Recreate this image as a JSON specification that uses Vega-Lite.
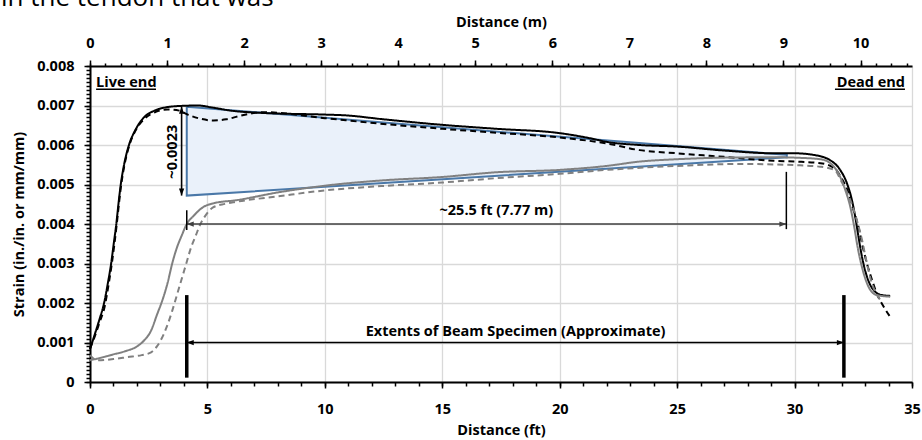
{
  "$schema": "https://vega.github.io/schema/vega-lite/v6.json",
  "width": 822,
  "height": 316,
  "autosize": {"type": "none"},
  "padding": {"left": 90, "top": 66, "right": 10, "bottom": 58},
  "background": "white",
  "title": {"text": "in the tendon that was", "anchor": "start", "frame": "group", "dx": -89, "dy": 18, "offset": 0, "baseline": "alphabetic", "font": "Open Sans", "fontSize": 26, "fontWeight": "normal", "color": "#000000"},
  "config": {
    "view": {"stroke": null},
    "axis": {"labelFont": "Open Sans", "labelFontWeight": "bold", "labelFontSize": 14.5, "labelColor": "#000000", "titleFont": "Open Sans", "titleFontWeight": "bold", "titleFontSize": 14.5, "titleColor": "#000000", "domainColor": "#000000", "domainWidth": 2, "tickColor": "#000000", "tickWidth": 1.5, "gridColor": "#d9d9d9", "gridWidth": 1.3, "labelFlush": false, "labelOverlap": false, "labelBound": false}
  },
  "datasets": {
    "band": [
      {"ft": 4.12, "upper": 0.00697, "lower": 0.00472},
      {"ft": 29.67, "upper": 0.00575, "lower": 0.00569}
    ],
    "outline": [
      {"vertex": 0, "ft": 4.12, "strain": 0.00697},
      {"vertex": 1, "ft": 29.67, "strain": 0.00575},
      {"vertex": 2, "ft": 29.67, "strain": 0.00569},
      {"vertex": 3, "ft": 4.12, "strain": 0.00472},
      {"vertex": 4, "ft": 4.12, "strain": 0.00697}
    ],
    "curves": [
      {"series": "Curve 1", "ft": 0, "strain": 0.00083},
      {"series": "Curve 1", "ft": 0.2, "strain": 0.0012},
      {"series": "Curve 1", "ft": 0.4, "strain": 0.00158},
      {"series": "Curve 1", "ft": 0.6, "strain": 0.002},
      {"series": "Curve 1", "ft": 0.76, "strain": 0.0025},
      {"series": "Curve 1", "ft": 0.9, "strain": 0.003},
      {"series": "Curve 1", "ft": 1.01, "strain": 0.0035},
      {"series": "Curve 1", "ft": 1.12, "strain": 0.004},
      {"series": "Curve 1", "ft": 1.21, "strain": 0.0045},
      {"series": "Curve 1", "ft": 1.31, "strain": 0.005},
      {"series": "Curve 1", "ft": 1.45, "strain": 0.0055},
      {"series": "Curve 1", "ft": 1.66, "strain": 0.006},
      {"series": "Curve 1", "ft": 1.95, "strain": 0.0064},
      {"series": "Curve 1", "ft": 2.3, "strain": 0.0067},
      {"series": "Curve 1", "ft": 2.75, "strain": 0.00687},
      {"series": "Curve 1", "ft": 3.3, "strain": 0.00696},
      {"series": "Curve 1", "ft": 3.9, "strain": 0.00699},
      {"series": "Curve 1", "ft": 4.6, "strain": 0.007},
      {"series": "Curve 1", "ft": 5.2, "strain": 0.00695},
      {"series": "Curve 1", "ft": 6.0, "strain": 0.00687},
      {"series": "Curve 1", "ft": 7.4, "strain": 0.00681},
      {"series": "Curve 1", "ft": 10, "strain": 0.00677},
      {"series": "Curve 1", "ft": 10.9, "strain": 0.00675},
      {"series": "Curve 1", "ft": 12.35, "strain": 0.00666},
      {"series": "Curve 1", "ft": 15, "strain": 0.00651},
      {"series": "Curve 1", "ft": 17.3, "strain": 0.00641},
      {"series": "Curve 1", "ft": 20, "strain": 0.0063},
      {"series": "Curve 1", "ft": 21.3, "strain": 0.00617},
      {"series": "Curve 1", "ft": 22, "strain": 0.00608},
      {"series": "Curve 1", "ft": 23.4, "strain": 0.006},
      {"series": "Curve 1", "ft": 25, "strain": 0.00596},
      {"series": "Curve 1", "ft": 27, "strain": 0.00586},
      {"series": "Curve 1", "ft": 29.1, "strain": 0.00579},
      {"series": "Curve 1", "ft": 30, "strain": 0.00579},
      {"series": "Curve 1", "ft": 30.8, "strain": 0.00575},
      {"series": "Curve 1", "ft": 31.5, "strain": 0.00562},
      {"series": "Curve 1", "ft": 31.94, "strain": 0.00537},
      {"series": "Curve 1", "ft": 32.23, "strain": 0.00503},
      {"series": "Curve 1", "ft": 32.44, "strain": 0.00461},
      {"series": "Curve 1", "ft": 32.58, "strain": 0.00419},
      {"series": "Curve 1", "ft": 32.72, "strain": 0.00368},
      {"series": "Curve 1", "ft": 32.87, "strain": 0.00317},
      {"series": "Curve 1", "ft": 33.08, "strain": 0.00267},
      {"series": "Curve 1", "ft": 33.36, "strain": 0.00233},
      {"series": "Curve 1", "ft": 33.72, "strain": 0.0022},
      {"series": "Curve 1", "ft": 34.07, "strain": 0.00218},

      {"series": "Curve 2", "ft": 0, "strain": 0.00085},
      {"series": "Curve 2", "ft": 0.2, "strain": 0.00115},
      {"series": "Curve 2", "ft": 0.4, "strain": 0.0015},
      {"series": "Curve 2", "ft": 0.62, "strain": 0.0019},
      {"series": "Curve 2", "ft": 0.8, "strain": 0.0025},
      {"series": "Curve 2", "ft": 0.93, "strain": 0.003},
      {"series": "Curve 2", "ft": 1.04, "strain": 0.0035},
      {"series": "Curve 2", "ft": 1.14, "strain": 0.004},
      {"series": "Curve 2", "ft": 1.23, "strain": 0.0045},
      {"series": "Curve 2", "ft": 1.33, "strain": 0.005},
      {"series": "Curve 2", "ft": 1.47, "strain": 0.0055},
      {"series": "Curve 2", "ft": 1.68, "strain": 0.006},
      {"series": "Curve 2", "ft": 1.97, "strain": 0.0064},
      {"series": "Curve 2", "ft": 2.35, "strain": 0.00668},
      {"series": "Curve 2", "ft": 2.8, "strain": 0.00684},
      {"series": "Curve 2", "ft": 3.3, "strain": 0.0069},
      {"series": "Curve 2", "ft": 3.8, "strain": 0.00687},
      {"series": "Curve 2", "ft": 4.12, "strain": 0.00678},
      {"series": "Curve 2", "ft": 4.6, "strain": 0.00668},
      {"series": "Curve 2", "ft": 5.26, "strain": 0.00662},
      {"series": "Curve 2", "ft": 5.8, "strain": 0.00665},
      {"series": "Curve 2", "ft": 6.4, "strain": 0.00674},
      {"series": "Curve 2", "ft": 7.4, "strain": 0.00683},
      {"series": "Curve 2", "ft": 10, "strain": 0.00668},
      {"series": "Curve 2", "ft": 12.35, "strain": 0.00654},
      {"series": "Curve 2", "ft": 15, "strain": 0.00641},
      {"series": "Curve 2", "ft": 17.3, "strain": 0.00631},
      {"series": "Curve 2", "ft": 20, "strain": 0.00619},
      {"series": "Curve 2", "ft": 22, "strain": 0.00604},
      {"series": "Curve 2", "ft": 23.4, "strain": 0.00587},
      {"series": "Curve 2", "ft": 25, "strain": 0.00579},
      {"series": "Curve 2", "ft": 27, "strain": 0.0057},
      {"series": "Curve 2", "ft": 29.1, "strain": 0.0056},
      {"series": "Curve 2", "ft": 30, "strain": 0.00558},
      {"series": "Curve 2", "ft": 31.1, "strain": 0.00554},
      {"series": "Curve 2", "ft": 31.7, "strain": 0.00541},
      {"series": "Curve 2", "ft": 32.0, "strain": 0.00516},
      {"series": "Curve 2", "ft": 32.3, "strain": 0.00478},
      {"series": "Curve 2", "ft": 32.51, "strain": 0.00435},
      {"series": "Curve 2", "ft": 32.72, "strain": 0.00393},
      {"series": "Curve 2", "ft": 32.9, "strain": 0.00343},
      {"series": "Curve 2", "ft": 33.08, "strain": 0.003},
      {"series": "Curve 2", "ft": 33.3, "strain": 0.00258},
      {"series": "Curve 2", "ft": 33.5, "strain": 0.00224},
      {"series": "Curve 2", "ft": 33.79, "strain": 0.00191},
      {"series": "Curve 2", "ft": 34.07, "strain": 0.00165},

      {"series": "Curve 3", "ft": 0, "strain": 0.00055},
      {"series": "Curve 3", "ft": 0.5, "strain": 0.00062},
      {"series": "Curve 3", "ft": 1.0, "strain": 0.0007},
      {"series": "Curve 3", "ft": 1.5, "strain": 0.00078},
      {"series": "Curve 3", "ft": 2.0, "strain": 0.0009},
      {"series": "Curve 3", "ft": 2.3, "strain": 0.00105},
      {"series": "Curve 3", "ft": 2.6, "strain": 0.0013},
      {"series": "Curve 3", "ft": 2.85, "strain": 0.0017},
      {"series": "Curve 3", "ft": 3.1, "strain": 0.0021},
      {"series": "Curve 3", "ft": 3.3, "strain": 0.0025},
      {"series": "Curve 3", "ft": 3.5, "strain": 0.003},
      {"series": "Curve 3", "ft": 3.7, "strain": 0.0034},
      {"series": "Curve 3", "ft": 3.9, "strain": 0.0037},
      {"series": "Curve 3", "ft": 4.12, "strain": 0.004},
      {"series": "Curve 3", "ft": 4.4, "strain": 0.0042},
      {"series": "Curve 3", "ft": 4.8, "strain": 0.00442},
      {"series": "Curve 3", "ft": 5.3, "strain": 0.00453},
      {"series": "Curve 3", "ft": 6.2, "strain": 0.0046},
      {"series": "Curve 3", "ft": 8.1, "strain": 0.00481},
      {"series": "Curve 3", "ft": 10, "strain": 0.00497},
      {"series": "Curve 3", "ft": 12.35, "strain": 0.0051},
      {"series": "Curve 3", "ft": 15, "strain": 0.00519},
      {"series": "Curve 3", "ft": 17.3, "strain": 0.00531},
      {"series": "Curve 3", "ft": 20, "strain": 0.00537},
      {"series": "Curve 3", "ft": 22, "strain": 0.00547},
      {"series": "Curve 3", "ft": 23.4, "strain": 0.00558},
      {"series": "Curve 3", "ft": 25, "strain": 0.00564},
      {"series": "Curve 3", "ft": 27, "strain": 0.00568},
      {"series": "Curve 3", "ft": 29.1, "strain": 0.00569},
      {"series": "Curve 3", "ft": 30, "strain": 0.00568},
      {"series": "Curve 3", "ft": 31.1, "strain": 0.00564},
      {"series": "Curve 3", "ft": 31.52, "strain": 0.00554},
      {"series": "Curve 3", "ft": 31.87, "strain": 0.00528},
      {"series": "Curve 3", "ft": 32.16, "strain": 0.00486},
      {"series": "Curve 3", "ft": 32.37, "strain": 0.00444},
      {"series": "Curve 3", "ft": 32.54, "strain": 0.00393},
      {"series": "Curve 3", "ft": 32.68, "strain": 0.00343},
      {"series": "Curve 3", "ft": 32.9, "strain": 0.00284},
      {"series": "Curve 3", "ft": 33.15, "strain": 0.00241},
      {"series": "Curve 3", "ft": 33.5, "strain": 0.0022},
      {"series": "Curve 3", "ft": 34.07, "strain": 0.00216},

      {"series": "Curve 4", "ft": 0, "strain": 0.00068},
      {"series": "Curve 4", "ft": 0.3, "strain": 0.00055},
      {"series": "Curve 4", "ft": 1.0, "strain": 0.00058},
      {"series": "Curve 4", "ft": 1.6, "strain": 0.00063},
      {"series": "Curve 4", "ft": 2.2, "strain": 0.00068},
      {"series": "Curve 4", "ft": 2.6, "strain": 0.00075},
      {"series": "Curve 4", "ft": 2.85, "strain": 0.0009},
      {"series": "Curve 4", "ft": 3.05, "strain": 0.0011},
      {"series": "Curve 4", "ft": 3.27, "strain": 0.0014},
      {"series": "Curve 4", "ft": 3.5, "strain": 0.0018},
      {"series": "Curve 4", "ft": 3.7, "strain": 0.0022},
      {"series": "Curve 4", "ft": 3.9, "strain": 0.0026},
      {"series": "Curve 4", "ft": 4.1, "strain": 0.003},
      {"series": "Curve 4", "ft": 4.3, "strain": 0.0034},
      {"series": "Curve 4", "ft": 4.5, "strain": 0.0037},
      {"series": "Curve 4", "ft": 4.7, "strain": 0.004},
      {"series": "Curve 4", "ft": 4.9, "strain": 0.0042},
      {"series": "Curve 4", "ft": 5.24, "strain": 0.00442},
      {"series": "Curve 4", "ft": 5.75, "strain": 0.00451},
      {"series": "Curve 4", "ft": 6.2, "strain": 0.00456},
      {"series": "Curve 4", "ft": 8, "strain": 0.0047},
      {"series": "Curve 4", "ft": 10, "strain": 0.00485},
      {"series": "Curve 4", "ft": 12.4, "strain": 0.00496},
      {"series": "Curve 4", "ft": 15, "strain": 0.00505},
      {"series": "Curve 4", "ft": 17.3, "strain": 0.00516},
      {"series": "Curve 4", "ft": 20, "strain": 0.00527},
      {"series": "Curve 4", "ft": 22, "strain": 0.00537},
      {"series": "Curve 4", "ft": 25, "strain": 0.00547},
      {"series": "Curve 4", "ft": 27.7, "strain": 0.00552},
      {"series": "Curve 4", "ft": 30, "strain": 0.00549},
      {"series": "Curve 4", "ft": 31.1, "strain": 0.00545},
      {"series": "Curve 4", "ft": 31.7, "strain": 0.00537},
      {"series": "Curve 4", "ft": 32.0, "strain": 0.00507},
      {"series": "Curve 4", "ft": 32.37, "strain": 0.00461},
      {"series": "Curve 4", "ft": 32.65, "strain": 0.0041},
      {"series": "Curve 4", "ft": 32.87, "strain": 0.0036},
      {"series": "Curve 4", "ft": 33.05, "strain": 0.00309},
      {"series": "Curve 4", "ft": 33.25, "strain": 0.00258},
      {"series": "Curve 4", "ft": 33.43, "strain": 0.00229},
      {"series": "Curve 4", "ft": 33.65, "strain": 0.00208}
    ],
    "arrows": [
      {"arrow": "strain difference", "x": 3.9, "x2": 3.9, "y": 0.00697, "y2": 0.00472},
      {"arrow": "tendon length", "x": 4.12, "x2": 29.65, "y": 0.004, "y2": 0.004},
      {"arrow": "beam extents", "x": 4.12, "x2": 32.1, "y": 0.001, "y2": 0.001}
    ],
    "thinMarks": [
      {"x": 4.12, "y": 0.00385, "y2": 0.00435},
      {"x": 29.65, "y": 0.00387, "y2": 0.00532}
    ],
    "beamEnds": [
      {"x": 4.12, "y": 0.00011, "y2": 0.0022},
      {"x": 32.1, "y": 0.00011, "y2": 0.0022}
    ],
    "underlines": [
      {"x": 0.26, "x2": 2.81, "y": 0.00741},
      {"x": 31.72, "x2": 34.7, "y": 0.00741}
    ]
  },
  "resolve": {"axis": {"x": "independent", "y": "independent"}},
  "layer": [
    {
      "data": {"name": "band"},
      "mark": {"type": "area", "color": "#eaf1fa", "opacity": 1},
      "encoding": {
        "x": {"field": "ft", "type": "quantitative", "scale": {"domain": [0, 35], "nice": false, "zero": false},
          "axis": {"orient": "bottom", "values": [0, 5, 10, 15, 20, 25, 30, 35], "title": "Distance (ft)", "grid": true, "tickSize": 6, "labelPadding": 14, "titlePadding": 8}},
        "y": {"field": "upper", "type": "quantitative", "scale": {"domain": [0, 0.008], "nice": false, "zero": false},
          "axis": {"orient": "left", "values": [0, 0.001, 0.002, 0.003, 0.004, 0.005, 0.006, 0.007, 0.008], "labelExpr": "datum.value == 0 ? '0' : format(datum.value, '.3f')", "title": "Strain (in./in. or mm/mm)", "grid": true, "tickSize": 6, "labelPadding": 10, "titlePadding": 10}},
        "y2": {"field": "lower"}
      }
    },
    {
      "data": {"name": "outline"},
      "mark": {"type": "line", "color": "#4a78a8", "strokeWidth": 2},
      "encoding": {
        "x": {"field": "ft", "type": "quantitative", "scale": {"domain": [0, 35], "nice": false, "zero": false},
          "axis": {"orient": "bottom", "values": [0,1,2,3,4,5,6,7,8,9,10,11,12,13,14,15,16,17,18,19,20,21,22,23,24,25,26,27,28,29,30,31,32,33,34,35], "labels": false, "domain": false, "grid": false, "title": null, "tickSize": 4}},
        "y": {"field": "strain", "type": "quantitative", "scale": {"domain": [0, 0.008], "nice": false, "zero": false},
          "axis": {"orient": "left", "values": [0,0.0001,0.0002,0.0003,0.0004,0.0005,0.0006,0.0007,0.0008,0.0009,0.001,0.0011,0.0012,0.0013,0.0014,0.0015,0.0016,0.0017,0.0018,0.0019,0.002,0.0021,0.0022,0.0023,0.0024,0.0025,0.0026,0.0027,0.0028,0.0029,0.003,0.0031,0.0032,0.0033,0.0034,0.0035,0.0036,0.0037,0.0038,0.0039,0.004,0.0041,0.0042,0.0043,0.0044,0.0045,0.0046,0.0047,0.0048,0.0049,0.005,0.0051,0.0052,0.0053,0.0054,0.0055,0.0056,0.0057,0.0058,0.0059,0.006,0.0061,0.0062,0.0063,0.0064,0.0065,0.0066,0.0067,0.0068,0.0069,0.007,0.0071,0.0072,0.0073,0.0074,0.0075,0.0076,0.0077,0.0078,0.0079,0.008], "labels": false, "domain": false, "grid": false, "title": null, "tickSize": 4}},
        "order": {"field": "vertex", "type": "quantitative"}
      }
    },
    {
      "data": {"name": "curves"},
      "mark": {"type": "line", "interpolate": "monotone"},
      "encoding": {
        "x": {"field": "ft", "type": "quantitative", "scale": {"domain": [0, 35], "nice": false, "zero": false},
          "axis": {"orient": "top", "values": [0, 3.28084, 6.56168, 9.84252, 13.12336, 16.4042, 19.68504, 22.96588, 26.24672, 29.52756, 32.8084], "labelExpr": "format(round(datum.value / 3.28084), 'd')", "title": "Distance (m)", "grid": false, "tickSize": 6, "labelPadding": 10, "titlePadding": 6}},
        "y": {"field": "strain", "type": "quantitative", "scale": {"domain": [0, 0.008], "nice": false, "zero": false}, "axis": null},
        "color": {"field": "series", "type": "nominal", "scale": {"domain": ["Curve 1", "Curve 2", "Curve 3", "Curve 4"], "range": ["#000000", "#000000", "#808080", "#808080"]}, "legend": null},
        "strokeDash": {"field": "series", "type": "nominal", "scale": {"domain": ["Curve 1", "Curve 2", "Curve 3", "Curve 4"], "range": [[1, 0], [6, 4], [1, 0], [6, 4]]}, "legend": null},
        "strokeWidth": {"field": "series", "type": "nominal", "scale": {"domain": ["Curve 1", "Curve 2", "Curve 3", "Curve 4"], "range": [2, 2, 1.8, 1.8]}, "legend": null}
      }
    },
    {
      "data": {"name": "arrows"},
      "mark": {"type": "rule", "strokeWidth": 1.6},
      "encoding": {
        "x": {"field": "x", "type": "quantitative", "scale": {"domain": [0, 35], "nice": false, "zero": false},
          "axis": {"orient": "top", "values": [0,0.656,1.312,1.969,2.625,3.281,3.937,4.593,5.249,5.906,6.562,7.218,7.874,8.53,9.186,9.843,10.499,11.155,11.811,12.467,13.123,13.78,14.436,15.092,15.748,16.404,17.06,17.717,18.373,19.029,19.685,20.341,20.997,21.654,22.31,22.966,23.622,24.278,24.934,25.591,26.247,26.903,27.559,28.215,28.871,29.528,30.184,30.84,31.496,32.152,32.808,33.465,34.121,34.777], "labels": false, "domain": false, "grid": false, "title": null, "tickSize": 3}},
        "x2": {"field": "x2"},
        "y": {"field": "y", "type": "quantitative", "scale": {"domain": [0, 0.008], "nice": false, "zero": false}, "axis": null},
        "y2": {"field": "y2"},
        "color": {"condition": {"test": "datum.arrow === 'tendon length'", "value": "#404040"}, "value": "#000000"}
      }
    },
    {
      "data": {"name": "thinMarks"},
      "mark": {"type": "rule", "strokeWidth": 1.5, "color": "#000000"},
      "encoding": {
        "x": {"field": "x", "type": "quantitative", "axis": null},
        "y": {"field": "y", "type": "quantitative", "axis": null},
        "y2": {"field": "y2"}
      }
    },
    {
      "data": {"name": "beamEnds"},
      "mark": {"type": "rule", "strokeWidth": 3.5, "color": "#000000"},
      "encoding": {
        "x": {"field": "x", "type": "quantitative", "axis": null},
        "y": {"field": "y", "type": "quantitative", "axis": null},
        "y2": {"field": "y2"}
      }
    },
    {
      "data": {"name": "underlines"},
      "mark": {"type": "rule", "strokeWidth": 1.5, "color": "#000000"},
      "encoding": {
        "x": {"field": "x", "type": "quantitative", "axis": null},
        "x2": {"field": "x2"},
        "y": {"field": "y", "type": "quantitative", "axis": null}
      }
    },
    {
      "data": {"name": "arrows"},
      "transform": [{"filter": "datum.y == datum.y2"}],
      "mark": {"type": "point", "shape": "M0,0L2,-0.75L2,0.75Z", "filled": true, "size": 49, "opacity": 1},
      "encoding": {
        "x": {"field": "x", "type": "quantitative", "axis": null},
        "y": {"field": "y", "type": "quantitative", "axis": null},
        "color": {"condition": {"test": "datum.arrow === 'tendon length'", "value": "#404040"}, "value": "#000000"}
      }
    },
    {
      "data": {"name": "arrows"},
      "transform": [{"filter": "datum.y == datum.y2"}],
      "mark": {"type": "point", "shape": "M0,0L-2,-0.75L-2,0.75Z", "filled": true, "size": 49, "opacity": 1},
      "encoding": {
        "x": {"field": "x2", "type": "quantitative", "axis": null},
        "y": {"field": "y2", "type": "quantitative", "axis": null},
        "color": {"condition": {"test": "datum.arrow === 'tendon length'", "value": "#404040"}, "value": "#000000"}
      }
    },
    {
      "data": {"name": "arrows"},
      "transform": [{"filter": "datum.x == datum.x2"}],
      "mark": {"type": "point", "shape": "M0,0L-0.75,2L0.75,2Z", "filled": true, "size": 49, "opacity": 1, "color": "#000000"},
      "encoding": {
        "x": {"field": "x", "type": "quantitative", "axis": null},
        "y": {"field": "y", "type": "quantitative", "axis": null}
      }
    },
    {
      "data": {"name": "arrows"},
      "transform": [{"filter": "datum.x == datum.x2"}],
      "mark": {"type": "point", "shape": "M0,0L-0.75,-2L0.75,-2Z", "filled": true, "size": 49, "opacity": 1, "color": "#000000"},
      "encoding": {
        "x": {"field": "x2", "type": "quantitative", "axis": null},
        "y": {"field": "y2", "type": "quantitative", "axis": null}
      }
    },
    {
      "data": {"values": [
        {"label": "~25.5 ft (7.77 m)", "x": 17.3, "y": 0.00433},
        {"label": "Extents of Beam Specimen (Approximate)", "x": 18.12, "y": 0.00127}
      ]},
      "mark": {"type": "text", "font": "Open Sans", "fontWeight": "bold", "fontSize": 14.5, "color": "#000000", "align": "center", "baseline": "middle"},
      "encoding": {
        "x": {"field": "x", "type": "quantitative", "axis": null},
        "y": {"field": "y", "type": "quantitative", "axis": null},
        "text": {"field": "label"}
      }
    },
    {
      "data": {"values": [{"label": "~0.0023", "x": 3.55, "y": 0.00583}]},
      "mark": {"type": "text", "font": "Open Sans", "fontWeight": "bold", "fontSize": 14.5, "color": "#000000", "align": "center", "baseline": "middle", "angle": 270},
      "encoding": {
        "x": {"field": "x", "type": "quantitative", "axis": null},
        "y": {"field": "y", "type": "quantitative", "axis": null},
        "text": {"field": "label"}
      }
    },
    {
      "data": {"values": [{"label": "Live end", "x": 0.26, "y": 0.00747}]},
      "mark": {"type": "text", "font": "Open Sans", "fontWeight": "bold", "fontSize": 14.5, "color": "#000000", "align": "left", "baseline": "alphabetic"},
      "encoding": {
        "x": {"field": "x", "type": "quantitative", "axis": null},
        "y": {"field": "y", "type": "quantitative", "axis": null},
        "text": {"field": "label"}
      }
    },
    {
      "data": {"values": [{"label": "Dead end", "x": 34.7, "y": 0.00747}]},
      "mark": {"type": "text", "font": "Open Sans", "fontWeight": "bold", "fontSize": 14.5, "color": "#000000", "align": "right", "baseline": "alphabetic"},
      "encoding": {
        "x": {"field": "x", "type": "quantitative", "axis": null},
        "y": {"field": "y", "type": "quantitative", "axis": null},
        "text": {"field": "label"}
      }
    }
  ]
}
